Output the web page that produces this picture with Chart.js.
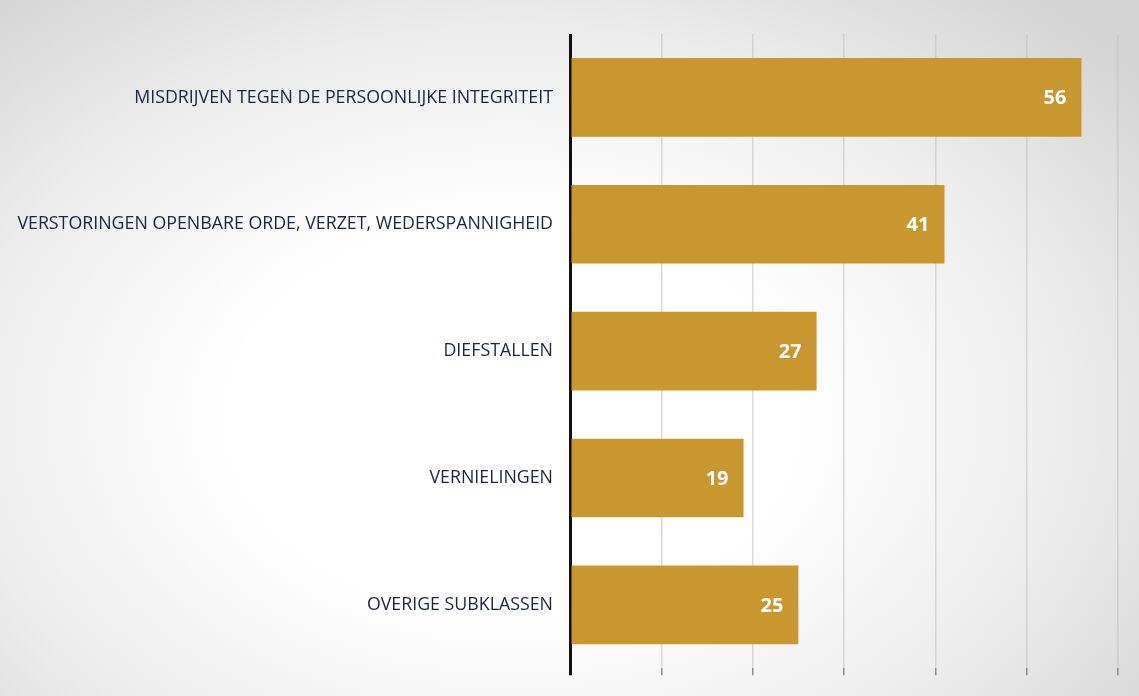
<!DOCTYPE html>
<html>
<head>
<meta charset="utf-8">
<script src="https://cdn.jsdelivr.net/npm/chart.js@4"></script>
<style>
  html, body { margin: 0; padding: 0; }
  body {
    width: 1139px; height: 696px; overflow: hidden;
    background: radial-gradient(ellipse 70% 80% at 45% 60%, #ffffff 35%, #ececec 70%, #d4d4d4 100%);
  }
  #wrap { position: relative; width: 1139px; height: 696px; }
</style>
</head>
<body>
<div id="wrap"><canvas id="chart" width="1139" height="696"></canvas></div>
<script>
  const categorieen = [
    "MISDRIJVEN TEGEN DE PERSOONLIJKE INTEGRITEIT",
    "VERSTORINGEN OPENBARE ORDE, VERZET, WEDERSPANNIGHEID",
    "DIEFSTALLEN",
    "VERNIELINGEN",
    "OVERIGE SUBKLASSEN"
  ];
  const aantallen = [56, 41, 27, 19, 25];
  const asMax = 60;
  const asStap = 10;

  const barKleur = "#c9972f";

  // waarden in witte letters aan het eind van de balk
  const waardeLabels = {
    id: "waardeLabels",
    afterDatasetsDraw(chart) {
      const ctx = chart.ctx;
      const meta = chart.getDatasetMeta(0);
      ctx.save();
      ctx.fillStyle = "#ffffff";
      ctx.font = "bold 20px 'Open Sans', Lato, sans-serif";
      ctx.textAlign = "right";
      ctx.textBaseline = "middle";
      meta.data.forEach((bar, i) => {
        ctx.fillText(aantallen[i], bar.x - 15, bar.y + 1);
      });
      ctx.restore();
    }
  };

  new Chart(document.getElementById("chart"), {
    type: "bar",
    data: {
      labels: categorieen,
      datasets: [{
        data: aantallen,
        backgroundColor: barKleur,
        borderWidth: 0,
        barPercentage: 0.62,
        categoryPercentage: 1
      }]
    },
    options: {
      indexAxis: "y",
      responsive: false,
      animation: false,
      devicePixelRatio: 1,
      layout: { padding: { top: 34, right: 21, bottom: 15, left: 0 } },
      plugins: { legend: { display: false }, tooltip: { enabled: false } },
      scales: {
        x: {
          min: 0,
          max: asMax,
          ticks: { display: false, stepSize: asStap },
          border: { display: false },
          grid: {
            color: (c) => c.tick && c.tick.value === 0 ? "#111111" : "rgba(195,195,195,0.6)",
            tickColor: (c) => c.tick && c.tick.value === 0 ? "#111111" : "#8c8c8c",
            lineWidth: (c) => c.tick && c.tick.value === 0 ? 3 : 1.5,
            tickLength: 7,
            drawTicks: true
          }
        },
        y: {
          afterFit: (s) => { s.width = 570; },
          border: { display: false },
          grid: { display: false, drawTicks: false },
          ticks: {
            padding: 17,
            color: "#1c2541",
            font: { family: "'Open Sans', Lato, sans-serif", size: 17.8 }
          }
        }
      }
    },
    plugins: [waardeLabels]
  });
</script>
</body>
</html>
